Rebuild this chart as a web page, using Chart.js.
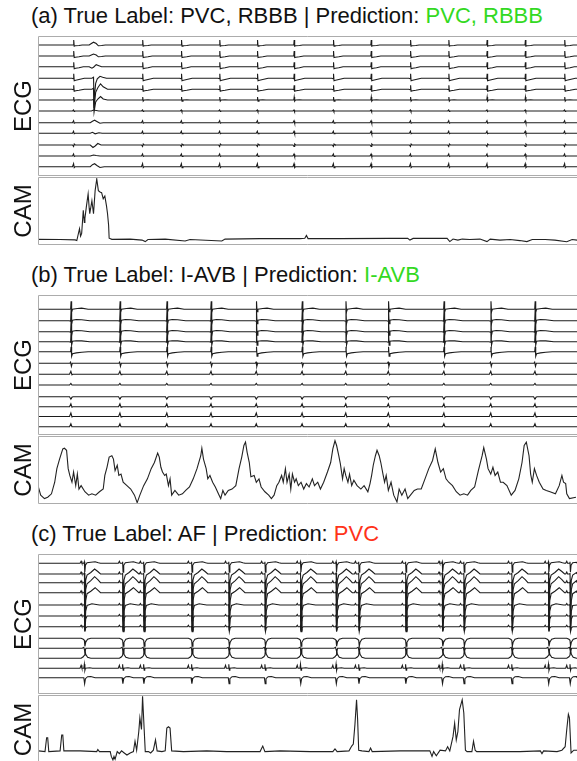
<!DOCTYPE html>
<html>
<head>
<meta charset="utf-8">
<script src="https://cdn.jsdelivr.net/npm/chart.js@4"></script>
<style>
  body { margin: 0; width: 577px; height: 761px; overflow: hidden; position: relative; background: #fff; }
  canvas { position: absolute; left: 0; }
  .ttl { position: absolute; left: 31px; font: 22px/22px 'Liberation Sans', Arial, sans-serif; color: #111; white-space: nowrap; }
  .ok { color: #33d922; }
  .bad { color: #ff3319; }
</style>
</head>
<body>
<div class="ttl" style="top:5px">(a) True Label: PVC, RBBB | Prediction: <span class="ok">PVC, RBBB</span></div>
<canvas id="ecgA" width="577" height="140" style="top:36px"></canvas>
<canvas id="camA" width="577" height="68" style="top:177px"></canvas>

<div class="ttl" style="top:264px">(b) True Label: I-AVB | Prediction: <span class="ok">I-AVB</span></div>
<canvas id="ecgB" width="577" height="140" style="top:295px"></canvas>
<canvas id="camB" width="577" height="68" style="top:436px"></canvas>

<div class="ttl" style="top:523px">(c) True Label: AF | Prediction: <span class="bad">PVC</span></div>
<canvas id="ecgC" width="577" height="140" style="top:554px"></canvas>
<canvas id="camC" width="577" height="69" style="top:695px"></canvas>

<script>
// record length in seconds
const T_MAX = 10;

// ---- beat times (s) ----
const beatsA = [0.66, 1.94, 2.66, 3.37, 4.07, 4.75, 5.48, 6.18, 6.91, 7.62, 8.33, 9.04, 9.77];
const pvcA = [1.03];
const beatsB = [0.61, 1.52, 2.39, 3.21, 4.05, 4.90, 5.71, 6.50, 7.53, 8.40, 9.22];
const beatsC = [0.86, 1.57, 1.96, 2.85, 3.54, 4.21, 4.87, 5.53, 5.95, 6.82, 7.50, 7.90, 8.79, 9.47, 9.87];

// ---- lead baselines (ECG units, 12 leads top to bottom) ----
const leadsA = [13.1, 12.0, 10.93, 9.77, 8.67, 7.6, 6.5, 5.33, 4.27, 3.1, 2.0, 0.93];
const leadsB = [12.57, 11.43, 10.33, 9.33, 8.33, 7.17, 6.07, 5.0, 3.83, 2.83, 1.85, 0.83];
const leadsC = [13.07, 12.0, 11.13, 10.13, 8.9, 7.8, 6.73, 5.57, 4.57, 3.57, 2.57, 1.63];

// ---- beat shapes per lead: [time from beat (s), amplitude] ----
const shapeA = [
  [[-0.03,0],[-0.005,0],[0.003,0.5],[0.012,-0.12],[0.03,-0.08],[0.1,-0.05],[0.16,0]],
  [[-0.03,0],[-0.005,0],[0.003,0.5],[0.012,-0.15],[0.035,-0.12],[0.1,-0.08],[0.18,0]],
  [[-0.03,0],[-0.005,0],[0.003,0.45],[0.012,-0.2],[0.04,-0.15],[0.1,-0.1],[0.18,0]],
  [[-0.03,0],[-0.005,-0.05],[0.003,0.45],[0.012,-0.25],[0.04,-0.2],[0.1,-0.12],[0.2,0]],
  [[-0.03,0],[-0.005,-0.05],[0.003,0.4],[0.012,-0.2],[0.04,-0.15],[0.1,-0.1],[0.2,0]],
  [[-0.03,0],[-0.005,0],[0.003,0.3],[0.012,-0.12],[0.03,0],[0.1,0.03],[0.16,0]],
  [[-0.02,0],[0,0.1],[0.01,-0.05],[0.02,0]],
  [[-0.02,0],[0,0.2],[0.012,-0.05],[0.03,0]],
  [[-0.02,0],[0,0.2],[0.012,-0.05],[0.03,0]],
  [[-0.02,0],[0,-0.15],[0.012,0.1],[0.03,0]],
  [[-0.02,0],[0,0.2],[0.012,-0.05],[0.03,0]],
  [[-0.02,0],[0,0.3],[0.012,-0.1],[0.03,0]]
];
const pvcShapeA = [
  [[-0.08,0],[-0.04,0.15],[0,0.28],[0.05,0.15],[0.09,-0.08],[0.15,-0.05],[0.22,0]],
  [[-0.08,0],[-0.04,0.1],[0,0.2],[0.05,0.1],[0.09,-0.08],[0.15,-0.05],[0.22,0]],
  [[-0.08,0],[-0.03,-0.15],[0,-0.05],[0.05,0.2],[0.1,0.1],[0.15,0],[0.22,0]],
  [[-0.03,0],[0,0.1],[0.01,-2.2],[0.04,-0.5],[0.07,-0.05],[0.12,0.2],[0.17,0.1],[0.24,0]],
  [[-0.03,0],[0,0.1],[0.01,-1.9],[0.04,-0.3],[0.08,0.15],[0.13,0.55],[0.18,0.25],[0.26,0]],
  [[-0.03,0],[0,0.05],[0.01,-1.2],[0.04,-0.2],[0.08,0.1],[0.13,0.35],[0.18,0.1],[0.26,0]],
  [[-0.04,0],[0,0.1],[0.05,0.05],[0.1,0]],
  [[-0.06,0],[-0.02,0.15],[0.02,0.25],[0.07,0.1],[0.12,-0.05],[0.18,0]],
  [[-0.06,0],[-0.02,0.1],[0.03,-0.05],[0.1,0.05],[0.16,0]],
  [[-0.06,0],[-0.01,-0.25],[0.03,-0.1],[0.08,0.15],[0.14,0],[0.2,0]],
  [[-0.06,0],[0,0.1],[0.05,0.05],[0.12,0]],
  [[-0.06,0],[-0.02,0.2],[0.02,0.3],[0.07,0.1],[0.12,-0.08],[0.2,0]]
];
const shapeB = [
  [[-0.03,0],[-0.005,0],[0.004,0.8],[0.014,-0.25],[0.03,0],[0.12,0.08],[0.2,0.12],[0.32,0]],
  [[-0.03,0],[-0.005,-0.05],[0.004,1.1],[0.014,-0.3],[0.03,0.05],[0.1,0.12],[0.2,0.1],[0.35,0]],
  [[-0.03,0],[-0.005,-0.05],[0.004,1.05],[0.014,-0.35],[0.03,0.05],[0.1,0.12],[0.2,0.1],[0.35,0]],
  [[-0.03,0],[-0.005,-0.05],[0.004,1.0],[0.014,-0.35],[0.03,0.05],[0.1,0.1],[0.2,0.08],[0.35,0]],
  [[-0.03,0],[-0.005,0],[0.004,0.5],[0.014,-0.45],[0.03,-0.2],[0.1,-0.12],[0.2,-0.05],[0.32,0]],
  [[-0.02,0],[-0.005,0.12],[0.01,-0.3],[0.025,0],[0.04,0]],
  [[-0.025,0],[0,0.3],[0.02,-0.05],[0.035,0]],
  [[-0.025,0],[0,0.15],[0.02,0],[0.035,0]],
  [[-0.025,0],[0,-0.25],[0.02,-0.05],[0.04,0]],
  [[-0.025,0],[0,0.3],[0.02,-0.05],[0.035,0]],
  [[-0.025,0],[0,0.35],[0.02,-0.05],[0.035,0]],
  [[-0.025,0],[0,0.3],[0.02,0],[0.035,0]]
];
const shapeC = [
  [[-0.08,0],[-0.06,0.2],[-0.045,0],[-0.01,0],[0,0.15],[0.008,-0.9],[0.02,-0.2],[0.05,0.05],[0.12,0.1],[0.2,0.15],[0.26,0.05],[0.3,0]],
  [[-0.08,0],[-0.06,0.2],[-0.045,0],[-0.01,0],[0,0.1],[0.01,-2.0],[0.025,-0.6],[0.05,-0.1],[0.12,0.15],[0.19,0.5],[0.25,0.25],[0.3,0]],
  [[-0.08,0],[-0.06,0.2],[-0.045,0],[-0.01,0],[0,0.1],[0.01,-2.5],[0.025,-0.7],[0.05,-0.1],[0.12,0.2],[0.19,0.6],[0.25,0.3],[0.3,0]],
  [[-0.08,0],[-0.06,0.2],[-0.045,0],[-0.01,0],[0,0.1],[0.01,-2.8],[0.025,-0.8],[0.05,-0.1],[0.12,0.15],[0.2,0.5],[0.26,0.2],[0.3,0]],
  [[-0.08,0],[-0.06,0.15],[-0.045,0],[-0.01,0],[0,0.1],[0.01,-2.5],[0.025,-0.6],[0.05,-0.05],[0.14,0.12],[0.22,0.05],[0.28,0]],
  [[-0.08,0],[-0.06,0.15],[-0.045,0],[-0.01,0],[0,0.1],[0.01,-1.5],[0.025,-0.3],[0.05,0],[0.25,0]],
  [[-0.08,0],[-0.06,0.15],[-0.045,0],[-0.01,0],[0,0.1],[0.01,-0.5],[0.025,-0.1],[0.05,0],[0.25,0]],
  [[-0.06,0],[-0.02,-0.1],[0,-0.2],[0.01,-0.8],[0.025,-0.4],[0.06,-0.1],[0.12,0]],
  [[-0.04,0],[-0.01,0.1],[0.01,-0.3],[0.03,0],[0.05,0]],
  [[-0.06,0],[-0.02,0.15],[0,0.3],[0.01,0.9],[0.025,0.4],[0.06,0.1],[0.12,0]],
  [[-0.08,0],[-0.06,0.3],[-0.045,0],[-0.01,0],[0,0.4],[0.01,-0.2],[0.02,0],[0.1,0.05],[0.15,0]],
  [[-0.04,0],[-0.01,0],[0.005,-0.6],[0.02,-0.1],[0.06,0.1],[0.12,0.12],[0.2,0],[0.25,0]]
];

// ---- class activation maps: [time (s), normalised value] ----
const camA = [
  [0,0.083],[0.41,0.08],[0.69,0.075],[0.72,0.065],[0.77,0.24],[0.79,0.13],[0.81,0.17],[0.84,0.51],
  [0.86,0.33],[0.87,0.39],[0.9,0.58],[0.93,0.75],[0.95,0.54],[0.96,0.46],[1.0,0.65],[1.03,0.46],
  [1.06,0.8],[1.09,0.97],[1.12,0.8],[1.15,0.78],[1.18,0.77],[1.21,0.68],[1.24,0.72],[1.27,0.58],
  [1.29,0.46],[1.31,0.29],[1.32,0.1],[1.37,0.083],[1.71,0.087],[1.93,0.072],[1.99,0.05],[2.04,0.08],
  [2.36,0.087],[2.73,0.058],[2.82,0.08],[3.41,0.058],[3.47,0.087],[4.12,0.094],[4.86,0.094],[4.95,0.1],
  [4.98,0.14],[5.01,0.094],[5.6,0.094],[6.53,0.097],[6.86,0.097],[6.9,0.072],[6.96,0.097],[7.46,0.1],
  [7.59,0.097],[7.64,0.05],[7.7,0.087],[7.79,0.072],[7.87,0.087],[8.01,0.08],[8.2,0.087],[8.33,0.05],
  [8.39,0.087],[8.57,0.072],[8.76,0.08],[8.94,0.065],[9.07,0.05],[9.17,0.08],[9.41,0.08],[9.59,0.072],
  [9.81,0.048],[9.91,0.08],[10,0.072]
];
const camB = [
  [0,0.27],[0.05,0.13],[0.12,0.08],[0.18,0.1],[0.25,0.15],[0.31,0.32],[0.35,0.52],[0.4,0.66],[0.46,0.81],
  [0.49,0.82],[0.53,0.79],[0.56,0.52],[0.59,0.42],[0.63,0.32],[0.66,0.47],[0.7,0.27],[0.73,0.44],[0.76,0.22],
  [0.8,0.27],[0.87,0.18],[0.94,0.13],[1.0,0.15],[1.07,0.13],[1.14,0.18],[1.21,0.22],[1.24,0.42],[1.28,0.54],
  [1.32,0.69],[1.37,0.71],[1.4,0.66],[1.43,0.49],[1.47,0.57],[1.5,0.42],[1.54,0.44],[1.58,0.32],[1.65,0.27],
  [1.72,0.22],[1.79,0.13],[1.84,0.02],[1.89,0.13],[1.96,0.27],[2.03,0.37],[2.1,0.52],[2.16,0.61],[2.22,0.75],
  [2.25,0.69],[2.28,0.54],[2.31,0.47],[2.35,0.42],[2.38,0.44],[2.42,0.27],[2.45,0.37],[2.48,0.13],[2.54,0.2],
  [2.61,0.13],[2.68,0.15],[2.74,0.2],[2.81,0.25],[2.88,0.37],[2.95,0.52],[3.02,0.71],[3.04,0.82],[3.07,0.66],
  [3.12,0.52],[3.15,0.37],[3.19,0.42],[3.24,0.32],[3.29,0.25],[3.36,0.13],[3.39,0.08],[3.43,0.2],[3.47,0.13],
  [3.53,0.2],[3.6,0.22],[3.67,0.27],[3.73,0.52],[3.78,0.69],[3.82,0.86],[3.85,0.91],[3.88,0.76],[3.92,0.61],
  [3.95,0.4],[4.01,0.42],[4.05,0.32],[4.1,0.37],[4.14,0.25],[4.21,0.18],[4.28,0.13],[4.33,0.08],[4.38,0.13],
  [4.43,0.27],[4.47,0.32],[4.52,0.42],[4.55,0.32],[4.59,0.52],[4.62,0.32],[4.66,0.44],[4.69,0.22],[4.72,0.44],
  [4.76,0.32],[4.79,0.37],[4.83,0.27],[4.88,0.32],[4.93,0.22],[4.98,0.3],[5.03,0.25],[5.09,0.37],[5.13,0.27],
  [5.19,0.32],[5.24,0.22],[5.3,0.32],[5.37,0.47],[5.43,0.61],[5.47,0.81],[5.51,0.93],[5.54,0.86],[5.58,0.71],
  [5.61,0.59],[5.65,0.37],[5.68,0.52],[5.71,0.42],[5.75,0.32],[5.78,0.44],[5.82,0.27],[5.86,0.35],[5.92,0.27],
  [5.99,0.22],[6.05,0.27],[6.12,0.18],[6.16,0.3],[6.19,0.42],[6.22,0.57],[6.26,0.71],[6.29,0.79],[6.33,0.71],
  [6.36,0.61],[6.4,0.44],[6.43,0.32],[6.46,0.42],[6.5,0.2],[6.55,0.32],[6.6,0.13],[6.66,0.03],[6.7,0.22],
  [6.75,0.13],[6.81,0.22],[6.86,0.08],[6.91,0.13],[6.98,0.2],[7.04,0.22],[7.11,0.22],[7.18,0.37],[7.25,0.52],
  [7.32,0.64],[7.37,0.81],[7.42,0.61],[7.47,0.47],[7.52,0.52],[7.57,0.37],[7.62,0.32],[7.69,0.27],[7.76,0.18],
  [7.83,0.13],[7.9,0.15],[7.97,0.13],[8.03,0.2],[8.1,0.25],[8.17,0.49],[8.24,0.71],[8.27,0.83],[8.32,0.66],
  [8.35,0.52],[8.4,0.44],[8.44,0.54],[8.48,0.42],[8.53,0.47],[8.58,0.32],[8.63,0.32],[8.7,0.27],[8.78,0.13],
  [8.85,0.2],[8.92,0.37],[8.98,0.61],[9.02,0.86],[9.06,0.91],[9.11,0.71],[9.14,0.44],[9.17,0.32],[9.21,0.52],
  [9.25,0.42],[9.3,0.32],[9.37,0.22],[9.43,0.2],[9.5,0.18],[9.6,0.15],[9.67,0.27],[9.72,0.42],[9.75,0.32],
  [9.79,0.3],[9.81,0.15],[9.86,0.08],[9.98,0.1]
];
const camC = [
  [0.01,0.19],[0.13,0.18],[0.16,0.38],[0.18,0.38],[0.2,0.18],[0.41,0.19],[0.44,0.42],[0.46,0.42],[0.48,0.19],
  [0.78,0.19],[1.09,0.18],[1.11,0.21],[1.14,0.18],[1.34,0.18],[1.36,0.11],[1.39,0.06],[1.41,0.11],[1.43,0.07],
  [1.47,0.18],[1.51,0.15],[1.55,0.19],[1.6,0.16],[1.65,0.13],[1.71,0.16],[1.77,0.18],[1.8,0.33],[1.83,0.2],
  [1.87,0.47],[1.89,0.67],[1.92,0.5],[1.94,0.98],[1.97,0.5],[1.99,0.18],[2.05,0.18],[2.09,0.16],[2.14,0.2],
  [2.18,0.35],[2.21,0.19],[2.3,0.18],[2.36,0.19],[2.39,0.52],[2.42,0.54],[2.45,0.52],[2.48,0.19],[2.7,0.18],
  [3.13,0.19],[3.5,0.18],[3.81,0.18],[4.12,0.18],[4.17,0.26],[4.21,0.18],[4.49,0.19],[5.05,0.18],[5.47,0.18],
  [5.51,0.22],[5.55,0.18],[5.77,0.19],[5.82,0.26],[5.85,0.29],[5.88,0.57],[5.91,0.93],[5.93,0.64],[5.95,0.2],
  [6.01,0.19],[6.14,0.18],[6.17,0.23],[6.2,0.18],[6.72,0.19],[7.27,0.19],[7.31,0.11],[7.34,0.18],[7.39,0.12],
  [7.46,0.2],[7.56,0.19],[7.6,0.25],[7.64,0.19],[7.7,0.4],[7.73,0.59],[7.76,0.35],[7.79,0.47],[7.82,0.79],
  [7.87,0.93],[7.9,0.74],[7.93,0.2],[7.96,0.18],[8.05,0.18],[8.08,0.33],[8.11,0.2],[8.14,0.18],[8.64,0.18],
  [8.94,0.18],[9.32,0.19],[9.35,0.15],[9.38,0.19],[9.63,0.18],[9.72,0.2],[9.78,0.25],[9.81,0.5],[9.84,0.72],
  [9.86,0.67],[9.89,0.16],[9.94,0.2],[10,0.2]
];

// grey frame on top, left and bottom of the plot area
const frame = {
  id: 'frame',
  afterDraw(chart) {
    const a = chart.chartArea, ctx = chart.ctx;
    ctx.save();
    ctx.strokeStyle = '#acacac';
    ctx.lineWidth = 1;
    ctx.beginPath();
    ctx.moveTo(chart.width, a.top + 0.5);
    ctx.lineTo(a.left + 0.5, a.top + 0.5);
    ctx.lineTo(a.left + 0.5, a.bottom - 0.5);
    ctx.lineTo(chart.width, a.bottom - 0.5);
    ctx.stroke();
    ctx.restore();
  }
};

function leadSeries(offset, events) {
  const pts = [{x: 0, y: offset}];
  events.forEach(function (ev) {
    ev[1].forEach(function (p) { pts.push({x: ev[0] + p[0], y: offset + p[1]}); });
  });
  pts.push({x: T_MAX, y: offset});
  pts.sort(function (p, q) { return p.x - q.x; });
  return pts;
}

function options(label, yMin, yMax) {
  return {
    responsive: false,
    animation: false,
    events: [],
    layout: { padding: 0 },
    plugins: { legend: { display: false }, tooltip: { enabled: false } },
    elements: { point: { radius: 0 }, line: { borderWidth: 1.1, tension: 0 } },
    scales: {
      x: { type: 'linear', min: 0, max: T_MAX, display: false },
      y: {
        min: yMin, max: yMax,
        ticks: { display: false },
        grid: { display: false },
        border: { display: false },
        title: {
          display: true, text: label, color: '#111',
          font: { family: "'Liberation Sans', Arial, sans-serif", size: 24 },
          padding: { top: 10, bottom: 0 }
        },
        afterFit: function (s) { s.width = 38; }
      }
    }
  };
}

function ecgChart(id, leads, eventsFor) {
  const datasets = leads.map(function (off, i) {
    return { data: leadSeries(off, eventsFor(i)), borderColor: '#1c1c1c' };
  });
  new Chart(document.getElementById(id), {
    type: 'line',
    data: { datasets: datasets },
    options: options('ECG', 0, 14),
    plugins: [frame]
  });
}

function camChart(id, cam) {
  new Chart(document.getElementById(id), {
    type: 'line',
    data: { datasets: [{ data: cam.map(function (p) { return {x: p[0], y: p[1]}; }), borderColor: '#222' }] },
    options: options('CAM', 0, 1),
    plugins: [frame]
  });
}

ecgChart('ecgA', leadsA, function (i) {
  return beatsA.map(function (t) { return [t, shapeA[i]]; })
    .concat(pvcA.map(function (t) { return [t, pvcShapeA[i]]; }));
});
camChart('camA', camA);

ecgChart('ecgB', leadsB, function (i) {
  return beatsB.map(function (t) { return [t, shapeB[i]]; });
});
camChart('camB', camB);

ecgChart('ecgC', leadsC, function (i) {
  return beatsC.map(function (t) { return [t, shapeC[i]]; });
});
camChart('camC', camC);
</script>
</body>
</html>
